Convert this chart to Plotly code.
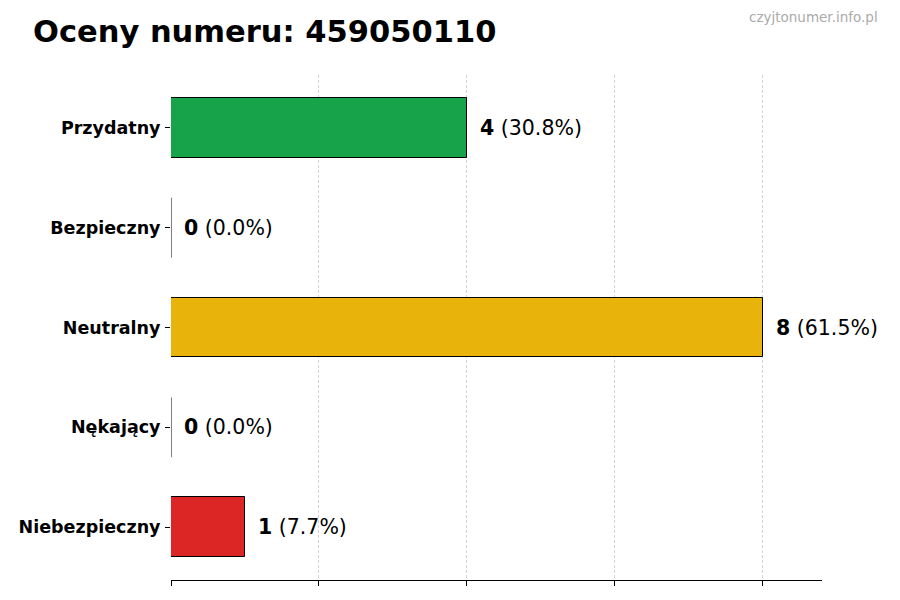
import plotly.graph_objects as go

categories = ["Przydatny", "Bezpieczny", "Neutralny", "Nękający", "Niebezpieczny"]
counts = [4, 0, 8, 0, 1]
colors = ["#16a34a", "#3b82f6", "#e8b30a", "#f97316", "#dc2626"]
title_text = "Oceny numeru: 459050110"
watermark = "czyjtonumer.info.pl"

total = sum(counts)
pos = list(range(len(categories)))
bar_w = 0.6
xmax = max(counts) * 1.1

OFF = 8  # page body margin compensation

fig = go.Figure()
fig.add_trace(go.Bar(
    x=counts, y=pos, orientation="h", width=bar_w,
    marker=dict(color=colors, line=dict(color="black", width=1)),
    hoverinfo="skip", showlegend=False,
))

# zero-value bars are drawn by matplotlib as a thin edge line
zx, zy = [], []
for i, c in enumerate(counts):
    if c == 0:
        zx += [0, 0, None]
        zy += [i - bar_w / 2, i + bar_w / 2, None]
fig.add_trace(go.Scatter(x=zx, y=zy, mode="lines",
                         line=dict(color="black", width=1),
                         hoverinfo="skip", showlegend=False))

for i, c in enumerate(counts):
    pct = 100 * c / total
    fig.add_annotation(
        x=c, y=i, xref="x", yref="y", xanchor="left", yanchor="middle",
        xshift=11, showarrow=False,
        text=f"<b>{c}</b> ({pct:.1f}%)",
        font=dict(family="DejaVu Sans", size=20.5, color="black"),
    )

fig.add_annotation(
    x=(880 - 171) / 651, y=(580 - 17) / 505, xref="paper", yref="paper",
    xanchor="right", yanchor="middle", showarrow=False, text=watermark,
    font=dict(family="DejaVu Sans", size=13.5, color="#aaaaaa"),
)

fig.update_layout(
    width=900, height=600,
    margin=dict(l=171 - OFF, r=78 + OFF, t=75 - OFF, b=20 + OFF),
    plot_bgcolor="white", paper_bgcolor="white",
    title=dict(text=f"<b>{title_text}</b>", xref="container", yref="container",
               x=(33 - OFF) / 900, xanchor="left", y=1 - (31 - OFF) / 600,
               yanchor="middle",
               font=dict(family="DejaVu Sans", size=30.5, color="black")),
    bargap=0,
)
fig.update_xaxes(
    range=[0, xmax], tickvals=[0, 2, 4, 6, 8], showticklabels=False,
    ticks="outside", ticklen=5, tickcolor="black", tickwidth=1,
    showline=True, linecolor="black", linewidth=1,
    showgrid=True, gridcolor="#d4d4d4", griddash="3px,2px", gridwidth=0.8,
    zeroline=False, automargin=False,
)
fig.update_yaxes(
    range=[len(categories) - 1 + 0.53, -0.53],
    tickvals=pos, ticktext=[f"<b>{c}</b>" for c in categories],
    ticks="outside", ticklen=5, tickcolor="black", tickwidth=1,
    ticklabelstandoff=1,
    tickfont=dict(family="DejaVu Sans", size=17.5, color="black"),
    showline=False, showgrid=False, zeroline=False, automargin=False,
)

fig.write_html("out.html")
